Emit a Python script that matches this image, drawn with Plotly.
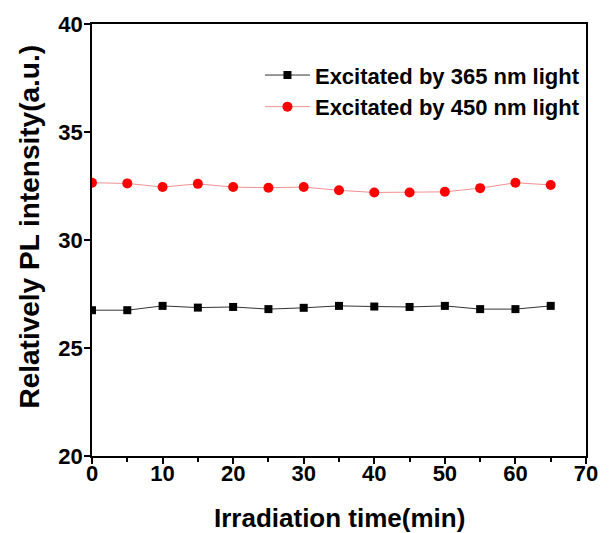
import plotly.graph_objects as go

time_min = [0, 5, 10, 15, 20, 25, 30, 35, 40, 45, 50, 55, 60, 65]
pl_365 = [26.75, 26.75, 26.95, 26.87, 26.9, 26.8, 26.86, 26.95, 26.92, 26.9, 26.95, 26.8, 26.8, 26.95]
pl_450 = [32.65, 32.62, 32.45, 32.6, 32.45, 32.42, 32.45, 32.3, 32.2, 32.2, 32.23, 32.4, 32.65, 32.55]
name_365 = "Excitated by 365 nm light"
name_450 = "Excitated by 450 nm light"

fig = go.Figure()
fig.add_trace(go.Scatter(x=time_min, y=pl_365, mode="lines+markers", name=name_365,
                         line=dict(color="#333333", width=1),
                         marker=dict(symbol="square", size=8, color="black")))
fig.add_trace(go.Scatter(x=time_min, y=pl_450, mode="lines+markers", name=name_450,
                         line=dict(color="#f39090", width=1),
                         marker=dict(symbol="circle", size=10, color="#ff0000")))

font = "Liberation Sans, Arial, sans-serif"
axis_common = dict(showline=True, linecolor="black", linewidth=1.5, mirror=True,
                   ticks="outside", ticklen=6, tickwidth=1.5, tickcolor="black",
                   showgrid=False, zeroline=False,
                   tickfont=dict(family=font, size=22, color="black", weight="bold"))

fig.update_xaxes(range=[0, 70], dtick=10, ticklabelstandoff=-9,
                 minor=dict(dtick=5, ticks="outside", ticklen=4, tickwidth=1.5, tickcolor="black"),
                 **axis_common)
fig.update_yaxes(range=[20, 40], dtick=5, ticklabelstandoff=-3, **axis_common)

fig.update_layout(width=610, height=533, margin=dict(l=92, r=14, t=22, b=77),
                  plot_bgcolor="white", paper_bgcolor="white",
                  legend=dict(x=0.34, y=0.93, xanchor="left", yanchor="top", itemwidth=45,
                              bgcolor="rgba(0,0,0,0)", tracegroupgap=0,
                              font=dict(family=font, size=22, color="black", weight="bold")),
                  annotations=[
                      dict(text="Relatively PL intensity(a.u.)", textangle=-90,
                           xref="paper", yref="paper", x=-0.1265, y=0.53,
                           xanchor="center", yanchor="middle", showarrow=False,
                           font=dict(family=font, size=28, color="black", weight="bold")),
                      dict(text="Irradiation time(min)",
                           xref="paper", yref="paper", x=0.5, y=-0.143,
                           xanchor="center", yanchor="middle", showarrow=False,
                           font=dict(family=font, size=26, color="black", weight="bold")),
                  ],
                  showlegend=True)

fig.write_html("out.html")
